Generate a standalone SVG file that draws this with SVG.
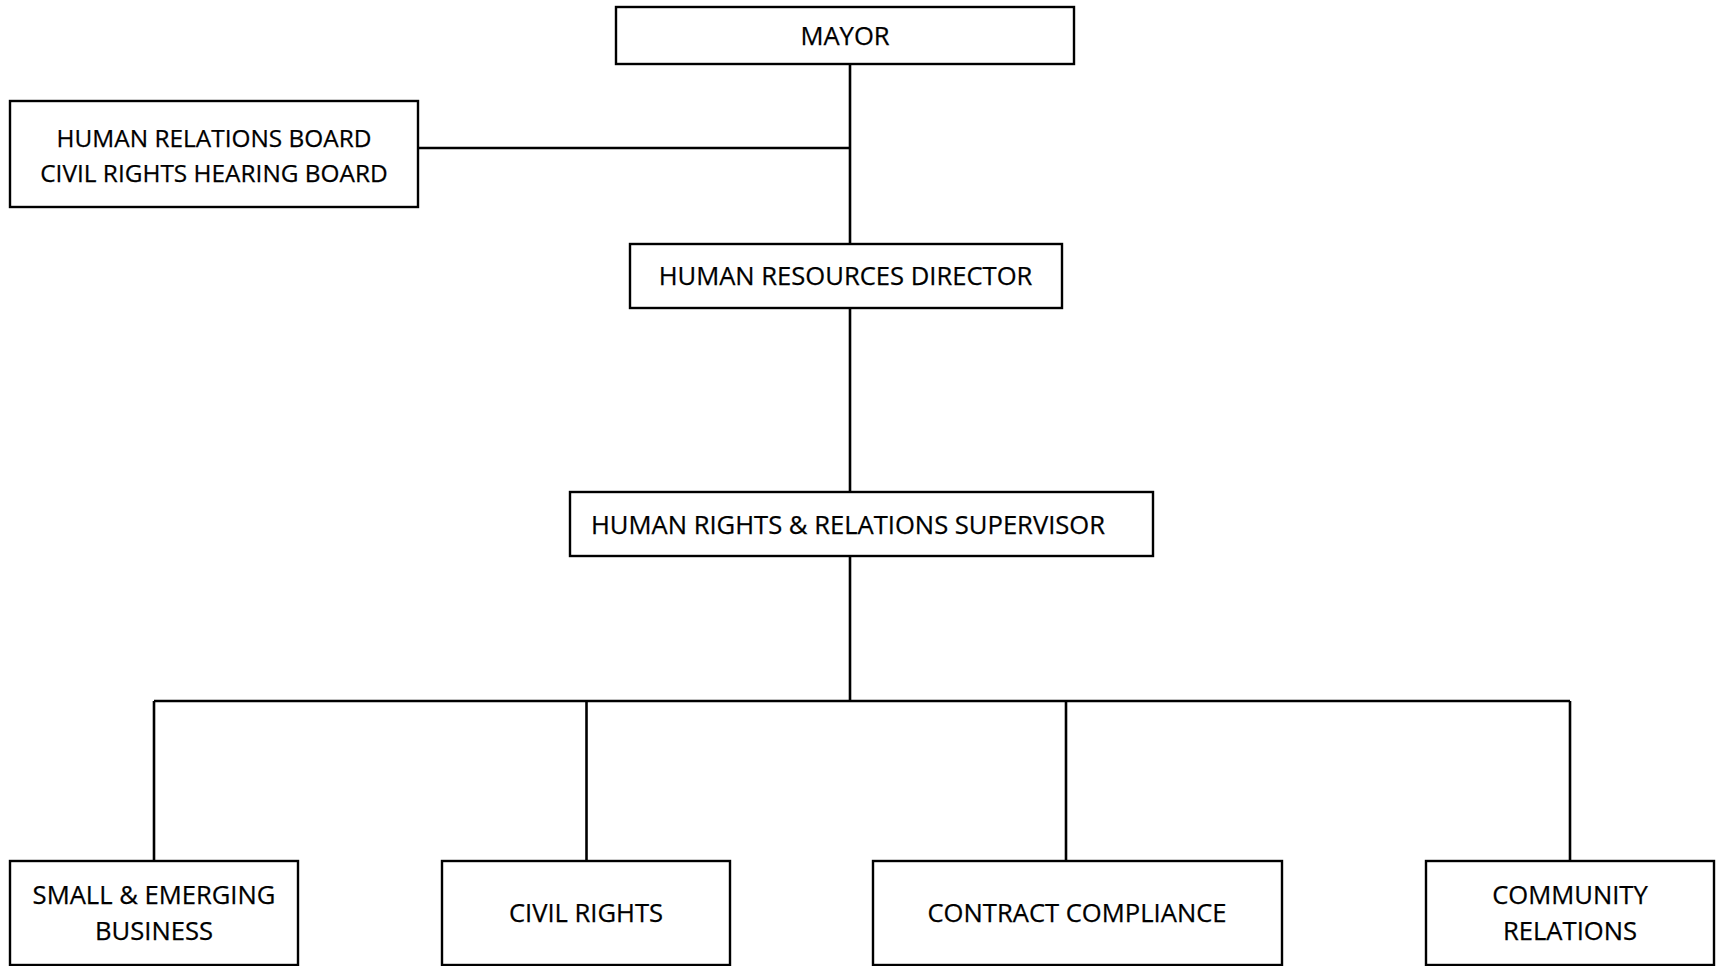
<svg xmlns="http://www.w3.org/2000/svg" width="1716" height="966" viewBox="0 0 1716 966">
<style>
.box{fill:#fff;stroke:#000;stroke-width:2.4}
.ln{stroke:#000;stroke-width:2.6;fill:none}
text{font-family:"Open Sans","Liberation Sans",sans-serif;font-size:25.6px;fill:#000;stroke:#000;stroke-width:0.25}
.c{text-anchor:middle}
.s{font-size:24.4px}
</style>
<rect width="1716" height="966" fill="#fff"/>
<g id="connectors">
<line class="ln" x1="850" y1="64" x2="850" y2="244"/>
<line class="ln" x1="418" y1="148" x2="850" y2="148"/>
<line class="ln" x1="850" y1="309" x2="850" y2="492"/>
<line class="ln" x1="850" y1="556" x2="850" y2="701"/>
<line class="ln" x1="154" y1="701" x2="1570" y2="701"/>
<line class="ln" x1="154" y1="701" x2="154" y2="861"/>
<line class="ln" x1="586.5" y1="701" x2="586.5" y2="861"/>
<line class="ln" x1="1066" y1="701" x2="1066" y2="861"/>
<line class="ln" x1="1570" y1="701" x2="1570" y2="861"/>
</g>
<g id="mayor"><rect class="box" x="616" y="7" width="458" height="57"/><text class="c" x="845" y="45">MAYOR</text></g>
<g id="boards"><rect class="box" x="10" y="101" width="408" height="106"/><text class="c s" x="214" y="147">HUMAN RELATIONS BOARD</text><text class="c s" x="214" y="182">CIVIL RIGHTS HEARING BOARD</text></g>
<g id="hr-director"><rect class="box" x="630" y="244" width="432" height="64"/><text class="c" x="845.5" y="285">HUMAN RESOURCES DIRECTOR</text></g>
<g id="supervisor"><rect class="box" x="570" y="492" width="583" height="64"/><text x="591" y="534">HUMAN RIGHTS &amp; RELATIONS SUPERVISOR</text></g>
<g id="small-business"><rect class="box" x="10" y="861" width="288" height="104"/><text class="c" x="154" y="904">SMALL &amp; EMERGING</text><text class="c" x="154" y="940">BUSINESS</text></g>
<g id="civil-rights"><rect class="box" x="442" y="861" width="288" height="104"/><text class="c" x="586" y="922">CIVIL RIGHTS</text></g>
<g id="contract-compliance"><rect class="box" x="873" y="861" width="409" height="104"/><text class="c" x="1077" y="922">CONTRACT COMPLIANCE</text></g>
<g id="community-relations"><rect class="box" x="1426" y="861" width="288" height="104"/><text class="c" x="1570" y="904">COMMUNITY</text><text class="c" x="1570" y="940">RELATIONS</text></g>
</svg>
